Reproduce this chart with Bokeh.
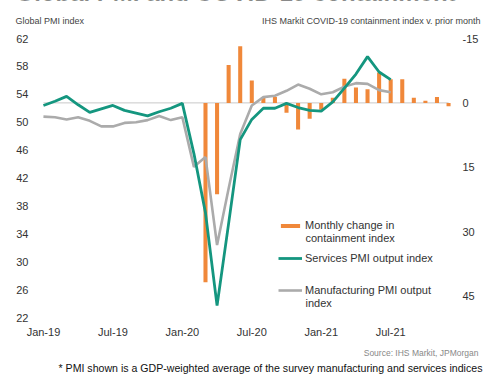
from bokeh.plotting import figure
from bokeh.layouts import column
from bokeh.models import (Range1d, LinearAxis, FixedTicker, Label, Legend,
                          LegendItem, ColumnDataSource)
from bokeh.embed import file_html
from bokeh.resources import INLINE

# ---------------- data ----------------
months = ["Jan-19", "Feb-19", "Mar-19", "Apr-19", "May-19", "Jun-19",
          "Jul-19", "Aug-19", "Sep-19", "Oct-19", "Nov-19", "Dec-19",
          "Jan-20", "Feb-20", "Mar-20", "Apr-20", "May-20", "Jun-20",
          "Jul-20", "Aug-20", "Sep-20", "Oct-20", "Nov-20", "Dec-20",
          "Jan-21", "Feb-21", "Mar-21", "Apr-21", "May-21", "Jun-21",
          "Jul-21", "Aug-21", "Sep-21", "Oct-21", "Nov-21", "Dec-21"]

# Services PMI output index (Jan-19 .. Jul-21)
services = [52.4, 53.0, 53.7, 52.5, 51.4, 51.9, 52.4, 51.7, 51.3, 50.9,
            51.5, 52.0, 52.7, 45.5, 37.0, 23.7, 35.5, 47.5, 50.4, 52.0,
            52.0, 52.7, 52.1, 51.7, 51.6, 52.9, 54.9, 56.9, 59.4, 57.2,
            56.1]

# Manufacturing PMI output index (Jan-19 .. Jul-21)
manufacturing = [50.8, 50.7, 50.4, 50.7, 50.2, 49.4, 49.4, 49.9, 50.0, 50.3,
                 50.9, 50.3, 50.7, 43.6, 45.0, 32.4, 40.5, 48.3, 52.4, 53.6,
                 53.8, 54.5, 55.4, 54.8, 54.0, 54.3, 55.1, 55.6, 55.5, 54.6,
                 54.3]

# Monthly change in containment index (Mar-20 .. Dec-21), right axis (inverted)
containment_months = months[14:]
containment_change = [41.8, 21.3, -8.8, -13.2, -5.2, -1.4, -1.4, 2.3, 6.2,
                      3.7, 1.6, -1.2, -5.6, -3.6, -3.2, -7.1, -5.5, -5.5,
                      -1.2, -0.5, -1.4, 0.8]

x_tick_labels = ["Jan-19", "Jul-19", "Jan-20", "Jul-20", "Jan-21", "Jul-21"]
left_ticks = [22, 26, 30, 34, 38, 42, 46, 50, 54, 58, 62]
right_ticks = [-15, 0, 15, 30, 45]

title_text = "Global PMI and COVID-19 containment"
left_header = "Global PMI index"
right_header = "IHS Markit COVID-19 containment index v. prior month"
source_text = "Source: IHS Markit, JPMorgan"
footnote = "* PMI shown is a GDP-weighted average of the survey manufacturing and services indices"

# ---------------- styling ----------------
ORANGE = "#F0883A"
TEAL = "#14967F"
GRAY = "#ABABAB"
FONT = "Liberation Sans"
TXT = "#333333"
W = 488


def text_strip(height):
    f = figure(width=W, height=height, output_backend="svg", toolbar_location=None,
               title=None, x_range=Range1d(0, W), y_range=Range1d(height, 0),
               x_axis_type=None, y_axis_type=None, min_border=0,
               outline_line_color=None, background_fill_color="white",
               border_fill_color="white", frame_align=False)
    f.grid.visible = False
    return f


def lab(fig, text, x, y, size, color=TXT, align="left", baseline="middle",
        style="normal", units="data"):
    fig.add_layout(Label(x=x, y=y, x_units=units, y_units=units, text=text,
                         text_font=FONT, text_font_size=size, text_color=color,
                         text_align=align, text_baseline=baseline,
                         text_font_style=style))


# ---- top strip: (cut-off) title and axis headers ----
top = text_strip(30)
lab(top, title_text, 15, -8.3, "24px", color="#222222", style="bold")
lab(top, left_header, 15, 20, "9px", color="#444444")
lab(top, right_header, 480, 20, "9px", color="#444444", align="right")

# ---- main chart ----
idx = {m: i for i, m in enumerate(months)}
line_src_s = ColumnDataSource(dict(x=[idx[m] for m in months[:len(services)]], y=services))
line_src_m = ColumnDataSource(dict(x=[idx[m] for m in months[:len(manufacturing)]], y=manufacturing))
bar_src = ColumnDataSource(dict(x=[idx[m] for m in containment_months], top=containment_change))

p = figure(width=W, height=310, output_backend="svg", toolbar_location=None,
           title=None, x_range=Range1d(-0.6, 35.6), y_range=Range1d(22, 62),
           min_border_left=36, min_border_right=33, min_border_top=8,
           min_border_bottom=22, outline_line_color=None,
           background_fill_color="white", border_fill_color="white",
           frame_align=False)
p.extra_y_ranges = {"chg": Range1d(start=50, end=-15)}
p.grid.visible = False

right_axis = LinearAxis(y_range_name="chg")
p.add_layout(right_axis, "right")

for ax in (p.xaxis[0], p.yaxis[0], right_axis):
    ax.axis_line_color = None
    ax.major_tick_line_color = None
    ax.minor_tick_line_color = None
    ax.major_tick_out = 0
    ax.major_tick_in = 0
    ax.minor_tick_out = 0
    ax.minor_tick_in = 0
    ax.major_label_text_font = FONT
    ax.major_label_text_font_size = "11px"
    ax.major_label_text_color = TXT

p.xaxis[0].ticker = FixedTicker(ticks=[idx[m] for m in x_tick_labels])
p.xaxis[0].major_label_overrides = {idx[m]: m for m in x_tick_labels}
p.xaxis[0].major_label_standoff = 8
p.yaxis[0].ticker = FixedTicker(ticks=left_ticks)
p.yaxis[0].major_label_standoff = 8
right_axis.ticker = FixedTicker(ticks=right_ticks)
right_axis.major_label_overrides = {t: str(t) for t in right_ticks}
right_axis.major_label_standoff = 7

# zero line of the containment axis
p.line(x=[0, len(months) - 1], y=[0, 0], y_range_name="chg",
       line_color="#C8C8C8", line_width=1)

bars = p.vbar(x="x", top="top", bottom=0, width=0.35, source=bar_src,
              y_range_name="chg", fill_color=ORANGE, line_color=None)
mline = p.line(x="x", y="y", source=line_src_m, line_color=GRAY, line_width=2.6)
sline = p.line(x="x", y="y", source=line_src_s, line_color=TEAL, line_width=2.8)


def make_legend(label, rend, loc, gh):
    lg = Legend(items=[LegendItem(label=label, renderers=[rend])], location=loc,
                border_line_color=None, background_fill_alpha=0, padding=0,
                margin=0, spacing=0, glyph_width=24, glyph_height=gh,
                label_standoff=3, label_height=12, label_text_font=FONT,
                label_text_font_size="11px", label_text_color=TXT)
    p.add_layout(lg)


# legend positions: screen px from the frame's bottom-left corner
make_legend("Monthly change in", bars, (242, 86), 5)
lab(p, "containment index", 269, 80, "11px", units="screen")
make_legend("Services PMI output index", sline, (242, 53), 12)
make_legend("Manufacturing PMI output", mline, (242, 21), 12)
lab(p, "index", 269, 15, "11px", units="screen")

# ---- bottom strip: source and footnote ----
bottom = text_strip(34)
lab(bottom, source_text, 478, 12, "8.5px", color="#888888", align="right")
lab(bottom, footnote, 58, 27, "10.6px", color="#111111")

layout = column(top, p, bottom, spacing=0)
open("out.html", "w").write(file_html(layout, INLINE))
